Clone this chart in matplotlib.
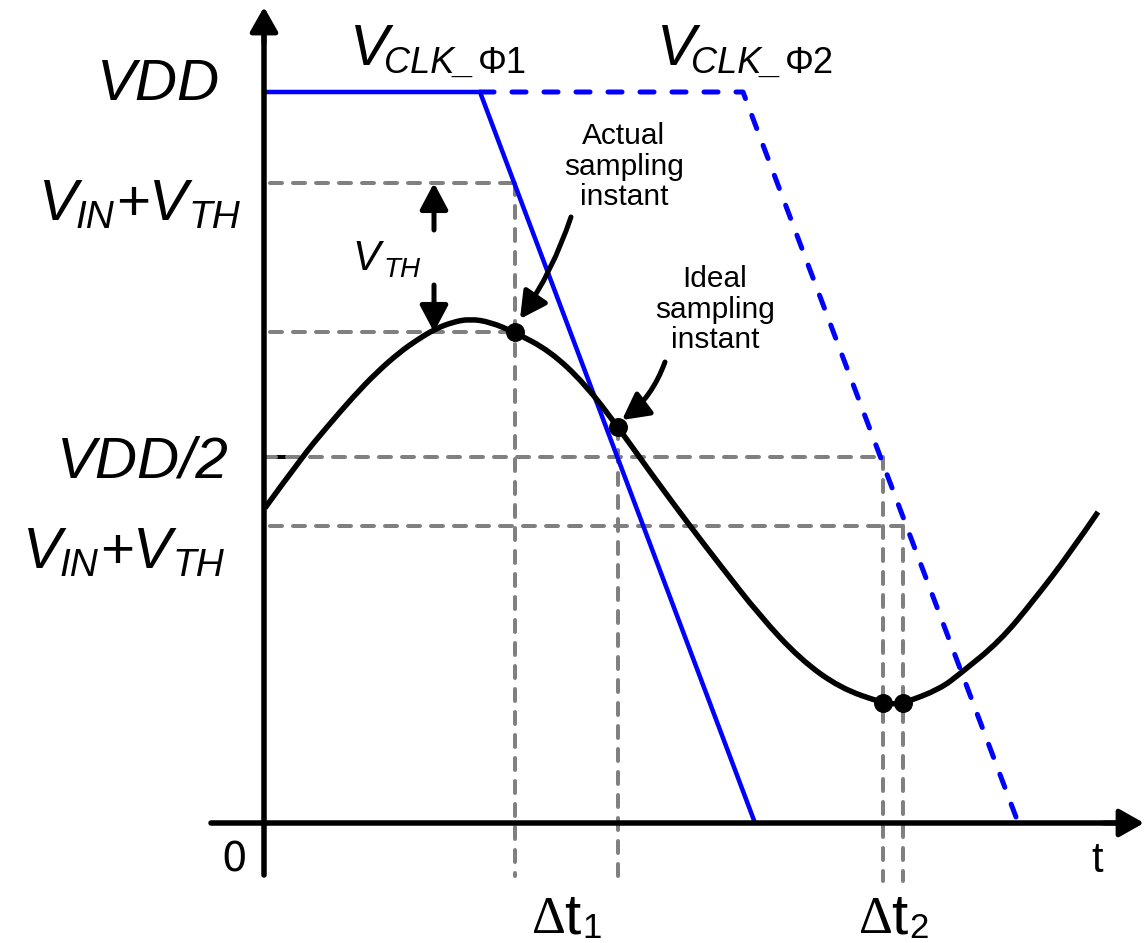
import numpy as np
import matplotlib
matplotlib.use('Agg')
from matplotlib import pyplot as plt
from matplotlib.path import Path
from matplotlib.patches import PathPatch

# chart units: t = time (right), v = voltage (up), origin where the axes cross
VDD = 731
VDD_HALF = 366
V_IN_VTH_HI = 640   # upper V_IN+V_TH level
V_ACTUAL = 491      # input level at the actual sampling instant
V_IN_VTH_LO = 297   # lower V_IN+V_TH level

clk1_t = [0, 216, 491]
clk1_v = [VDD, VDD, 0]
clk2_t = [216, 479, 752]
clk2_v = [VDD, VDD, 6]

# input signal
sig_t = [1, 38, 63, 89, 113, 136, 153, 171, 189, 206, 226, 250, 286, 321, 354,
         386, 426, 456, 496, 536, 576, 619, 629, 640, 676, 697, 736, 770, 806, 834]
sig_v = [315, 366, 396, 426, 451, 471, 483, 494, 501, 504, 501, 491, 472, 439, 396,
         351, 297, 258, 207, 164, 135, 120, 119, 120, 134, 150, 182, 223, 270, 311]

t_actual = 251
t_ideal = 354
v_ideal = 396
t2_a = 619
t2_b = 639
v_min = 120
t_vth = 170

PX = 0.72  # pixel -> point at 100 dpi
GRAY = '#808080'
BLUE = '#0000ff'

fig = plt.figure(figsize=(11.45, 9.43), dpi=100)
ax = fig.add_axes([0, 0, 1, 1])
ax.set_xlim(-264, 881)
ax.set_ylim(-120, 823)
ax.axis('off')


def gray(t, v):
    ln, = ax.plot(t, v, color=GRAY, lw=4 * PX, zorder=1)
    ln.set_dashes([3.0, 2.75])
    ln.set_dash_capstyle('round')


# guide lines
ax.plot([0, 20], [VDD_HALF, VDD_HALF], color='black', lw=4 * PX, zorder=0.5)
gray([6, t_actual], [V_IN_VTH_HI, V_IN_VTH_HI])
gray([6, t_actual], [V_ACTUAL, V_ACTUAL])
gray([0, t2_a], [VDD_HALF, VDD_HALF])
gray([6, t2_b], [V_IN_VTH_LO, V_IN_VTH_LO])
gray([t_actual, t_actual], [V_IN_VTH_HI, -53])
gray([t_ideal, t_ideal], [v_ideal, -53])
gray([t2_a, t2_a], [VDD_HALF, -58])
gray([t2_b, t2_b], [V_IN_VTH_LO, -58])

# clocks
ax.plot(clk1_t, clk1_v, color=BLUE, lw=4.5 * PX, zorder=2, solid_capstyle='round')
c2, = ax.plot(clk2_t, clk2_v, color=BLUE, lw=5 * PX, zorder=2)
c2.set_dashes([2.8, 3.6])
c2.set_dash_capstyle('round')

# signal as a smooth quadratic path through the read points
pts = np.column_stack([sig_t, sig_v]).astype(float)
verts = [pts[0]]
codes = [Path.MOVETO]
for i in range(1, len(pts) - 2):
    verts += [pts[i], (pts[i] + pts[i + 1]) / 2]
    codes += [Path.CURVE3, Path.CURVE3]
verts += [pts[-2], pts[-1]]
codes += [Path.CURVE3, Path.CURVE3]
ax.add_patch(PathPatch(Path(verts, codes), fill=False, lw=5.5 * PX, color='black',
                       capstyle='butt', zorder=3))

ax.plot([t_actual, t_ideal, t2_a, t2_b], [V_ACTUAL, v_ideal, v_min, v_min], 'o',
        color='black', ms=17.5 * PX, zorder=4)


def arrow(tail, tip, lw=5, hl=13, hw=7.5, rad=0.0):
    ax.annotate('', xy=tip, xytext=tail, zorder=5,
                arrowprops=dict(arrowstyle='-|>,head_length=%g,head_width=%g' % (hl, hw),
                                mutation_scale=1, lw=lw * PX, color='black',
                                shrinkA=0, shrinkB=0, capstyle='round',
                                connectionstyle='arc3,rad=%g' % rad))


# axes
ax.plot([-53, 858], [0, 0], color='black', lw=5.5 * PX, solid_capstyle='round', zorder=5)
ax.plot([0, 0], [-52, 790], color='black', lw=5.5 * PX, solid_capstyle='round', zorder=5)
arrow((840, 0), (880, 0), hl=15, hw=8.5)
arrow((0, 780), (0, 816), hl=15, hw=8.5)

# V_TH arrows
arrow((t_vth, 593), (t_vth, V_IN_VTH_HI), hl=16, hw=8.5)
arrow((t_vth, 538), (t_vth, V_ACTUAL), hl=16, hw=8.5)

# sampling instant pointers
arrow((307, 606), (256, 504), hl=16, hw=8.5, rad=-0.07)
arrow((401, 461), (358, 403), hl=16, hw=8.5, rad=-0.15)


def txt(x, y, s, size, style='italic', family='Liberation Sans', ha='left', **kw):
    ax.text(x - 264, 823 - y, s, fontsize=size, style=style, family=family,
            ha=ha, va='baseline', **kw)


txt(220, 100, 'VDD', 42, ha='right')
txt(229, 477, 'VDD/2', 42, ha='right')

for x0, base in [(39, 220), (23, 568)]:
    txt(x0, base, 'V', 42)
    txt(x0 + 36, base + 8, 'IN', 28)
    txt(x0 + 77, base, '+', 42, style='normal')
    txt(x0 + 110, base, 'V', 42)
    txt(x0 + 150, base + 8, 'TH', 28)

txt(352, 270, 'V', 30)
txt(383, 277, 'TH', 20)

for x0, num in [(350, '1'), (657, '2')]:
    txt(x0, 65, 'V', 42)
    txt(x0 + 34, 73, 'CLK_', 26)
    txt(x0 + 128, 73, '\u03a6' + num, 26, style='normal')

ax.text(624 - 264, 823 - 122, 'Actual\nsampling\ninstant', fontsize=21.5,
        family='Liberation Sans', ha='center', va='top', linespacing=1.12)
ax.text(715 - 264, 823 - 265, 'Ideal\nsampling\ninstant', fontsize=21.5,
        family='Liberation Sans', ha='center', va='top', linespacing=1.12)

txt(221, 872, '0', 29, style='normal', family='DejaVu Sans')
txt(1091, 872, 't', 30, style='normal')

for x0, num in [(532, '1'), (859, '2')]:
    txt(x0, 933, '\u0394', 38, style='normal', family='Liberation Serif')
    txt(x0 + 32, 933, 't', 42, style='normal')
    txt(x0 + 50, 938, num, 25, style='normal')

plt.savefig('out.png', dpi=100)
